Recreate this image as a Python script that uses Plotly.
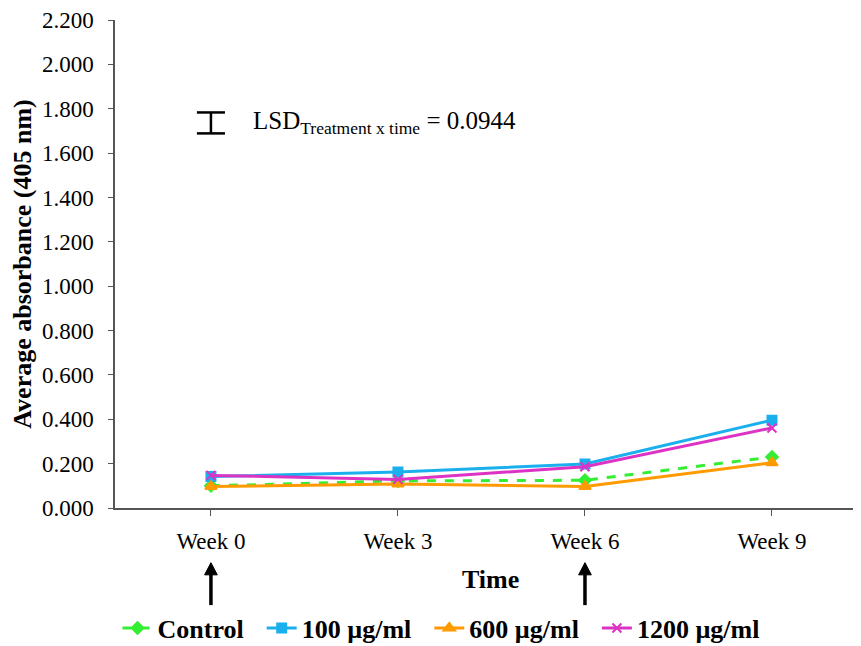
import plotly.graph_objects as go

weeks = ["Week 0", "Week 3", "Week 6", "Week 9"]
control = [0.100, 0.122, 0.125, 0.230]
ug100 = [0.142, 0.162, 0.198, 0.396]
ug600 = [0.097, 0.108, 0.097, 0.204]
ug1200 = [0.147, 0.129, 0.186, 0.361]
lsd = 0.0944
lsd_center = 1.736
arrow_weeks = [0, 2]  # indices of Week 0 and Week 6
y_ticks = [0.0, 0.2, 0.4, 0.6, 0.8, 1.0, 1.2, 1.4, 1.6, 1.8, 2.0, 2.2]
y_ticktext = [f"{v:.3f}" for v in y_ticks]

FONT = "Liberation Serif"
PAD = "\u00a0\u00a0"

fig = go.Figure()
series = [
    ("Control", control, "#33ee33", "dash", "diamond", 9),
    ("100 µg/ml", ug100, "#1ab0ee", "solid", "square", 9),
    ("600 µg/ml", ug600, "#ff9a00", "solid", "triangle-up", 10),
    ("1200 µg/ml", ug1200, "#dd33c4", "solid", "x-thin", 9),
]
for i, (name, vals, color, dash, sym, size) in enumerate(series):
    fig.add_trace(go.Scatter(
        x=weeks, y=vals, name=f"<b>{name}</b>" + (PAD if i < 3 else ""),
        mode="lines+markers",
        line=dict(color=color, width=3, dash=dash),
        marker=dict(symbol=sym, size=size, color=color,
                    line=dict(color=color, width=2)),
    ))

# LSD bar
fig.add_shape(type="line", xref="x", yref="y", x0=0, x1=0,
              y0=lsd_center - lsd / 2, y1=lsd_center + lsd / 2,
              line=dict(color="black", width=2.5))
for yy in (lsd_center - lsd / 2, lsd_center + lsd / 2):
    fig.add_shape(type="line", xref="x", yref="y", x0=-0.075, x1=0.075,
                  y0=yy, y1=yy, line=dict(color="black", width=2.5))

fig.add_annotation(xref="x", yref="y", x=0.215, y=lsd_center, xanchor="left",
                   yanchor="middle", showarrow=False,
                   text="LSD<sub>Treatment x time</sub> = 0.0944",
                   font=dict(family=FONT, size=25, color="black"))

# Time label
fig.add_annotation(xref="paper", yref="paper", x=0.504, y=-0.1475,
                   xanchor="center", yanchor="middle", showarrow=False,
                   text="<b>Time</b>", font=dict(family=FONT, size=26, color="black"))

# Upward arrows (shaft + head) below Week 0 and Week 6
for xi in arrow_weeks:
    fig.add_shape(type="line", xref="x", yref="paper", x0=xi, x1=xi,
                  y0=-0.199, y1=-0.135, line=dict(color="black", width=3.5))
    fig.add_shape(type="path", xref="x", yref="paper",
                  path=f"M {xi - 0.034},-0.137 L {xi + 0.034},-0.137 L {xi},-0.112 Z",
                  fillcolor="black", line=dict(color="black", width=1))

fig.update_layout(
    width=853, height=638,
    margin=dict(l=107, r=0, t=12, b=138, autoexpand=False),
    paper_bgcolor="white", plot_bgcolor="white",
    font=dict(family=FONT, size=22, color="black"),
    showlegend=True,
    legend=dict(orientation="h", x=0.437, xanchor="center", y=-0.246,
                yanchor="middle", font=dict(family=FONT, size=26, color="black"),
                itemwidth=30, tracegroupgap=0, bgcolor="rgba(0,0,0,0)"),
    xaxis=dict(type="category", range=[-0.513, 3.476], showgrid=False,
               showline=True, linecolor="#555555", linewidth=1.5,
               ticks="outside", ticklen=6, tickcolor="#555555",
               ticklabelstandoff=6,
               tickfont=dict(family=FONT, size=23), zeroline=False),
    yaxis=dict(range=[0, 2.2], tickvals=y_ticks, ticktext=y_ticktext,
               showgrid=False, showline=True, linecolor="#555555", linewidth=1.5,
               ticks="outside", ticklen=5, tickcolor="#555555",
               ticklabelstandoff=10,
               tickfont=dict(family=FONT, size=23), zeroline=False,
               title=dict(text="<b>Average absorbance (405 nm)</b>",
                          font=dict(family=FONT, size=26), standoff=8)),
)

fig.write_html("out.html")
